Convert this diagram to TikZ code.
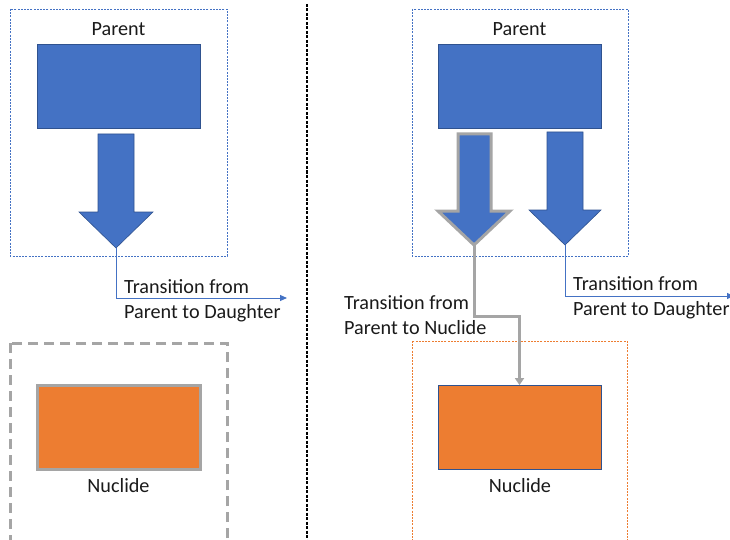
\documentclass[tikz,border=0pt]{standalone}
\usepackage{fontspec}
\setmainfont{Carlito}
\usetikzlibrary{arrows.meta}
\definecolor{cblue}{HTML}{4472C4}
\definecolor{cdblue}{HTML}{2F528F}
\definecolor{corange}{HTML}{ED7D31}
\definecolor{cgray}{HTML}{A5A5A5}
\definecolor{ctext}{HTML}{1A1A1A}
\tikzset{
  lbl/.style={font=\fontsize{20.2}{25}\selectfont, text=ctext, inner sep=0pt},
  tlbl/.style={lbl, align=left, anchor=west},
  parentbox/.style={draw=cdblue, line width=0.8pt, fill=cblue, minimum width=163pt, minimum height=84pt, inner sep=0pt},
  nucbox/.style={fill=corange, minimum width=163pt, minimum height=84pt, inner sep=0pt},
  blueframe/.style={draw=cblue, line width=0.8pt, dash pattern=on 2pt off 1.2pt},
  orangeframe/.style={draw=corange, line width=0.8pt, dash pattern=on 2pt off 1.2pt},
  grayframe/.style={draw=cgray, line width=3pt, dash pattern=on 10pt off 6pt},
  blockarrow/.style={fill=cblue, draw=cdblue, line width=0.6pt, line join=miter},
  bluelink/.style={draw=cblue, line width=1pt, -{Triangle[length=7pt,width=6pt]}},
  graylink/.style={draw=cgray, line width=3pt, -{Triangle[length=7pt,width=9pt]}},
}
\begin{document}
\begin{tikzpicture}[x=1pt,y=-1pt]
\useasboundingbox (0,0) rectangle (730,540);
\fill[white] (0,0) rectangle (730,540);

% frames
\draw[blueframe] (10,9) rectangle (227,256);
\draw[blueframe] (412,9) rectangle (628,256);
\draw[grayframe] (10,343) rectangle (227,548);
\draw[orangeframe] (412,341) rectangle (627,548);

% divider
\draw[black, line width=1.2pt, dash pattern=on 3pt off 1.5pt] (307,4) -- (307,540);

% parent boxes
\node[parentbox] (p1) at (118.5,86) {};
\node[parentbox] (p2) at (519.5,86) {};
\node[lbl] (p1l) at (118.5,29) {Parent};
\node[lbl] (p2l) at (519.5,29) {Parent};

% nuclide boxes
\node[nucbox, draw=cgray, line width=3pt] (n1) at (118.5,427) {};
\node[nucbox, draw=cdblue, line width=0.8pt] (n2) at (519.5,427.5) {};
\node[lbl] (n1l) at (118.5,486) {Nuclide};
\node[lbl] (n2l) at (520,486) {Nuclide};

% block arrows
\draw[blockarrow] (98,134) -- (134,134) -- (134,212) -- (153,212) -- (116,248) -- (79,212) -- (98,212) -- cycle;
\draw[blockarrow, draw=cgray, line width=3pt] (458,134) -- (491,134) -- (491,211) -- (510,211) -- (474,245) -- (438,211) -- (458,211) -- cycle;
\draw[blockarrow] (547,132) -- (583,132) -- (583,210) -- (601,210) -- (565,245) -- (529,210) -- (547,210) -- cycle;

\coordinate (t1) at (116,248);
\coordinate (t2) at (474,245);
\coordinate (t3) at (565,245);
\coordinate (e1) at (287,298);
\coordinate (e3) at (734,296);
\coordinate (b2) at (474,316);

% connectors
\draw[bluelink] (t1) |- (e1);
\draw[bluelink] (t3) |- (e3);
\draw[graylink] (t2) -- (b2) -| (n2.north);

% transition labels
\node[tlbl] (l1) at (124,300.5) {Transition from\\Parent to Daughter};
\node[tlbl] (l3) at (573,297.5) {Transition from\\Parent to Daughter};
\node[tlbl] (l2) at (344,315) {Transition from\\Parent to Nuclide};
\end{tikzpicture}
\end{document}
